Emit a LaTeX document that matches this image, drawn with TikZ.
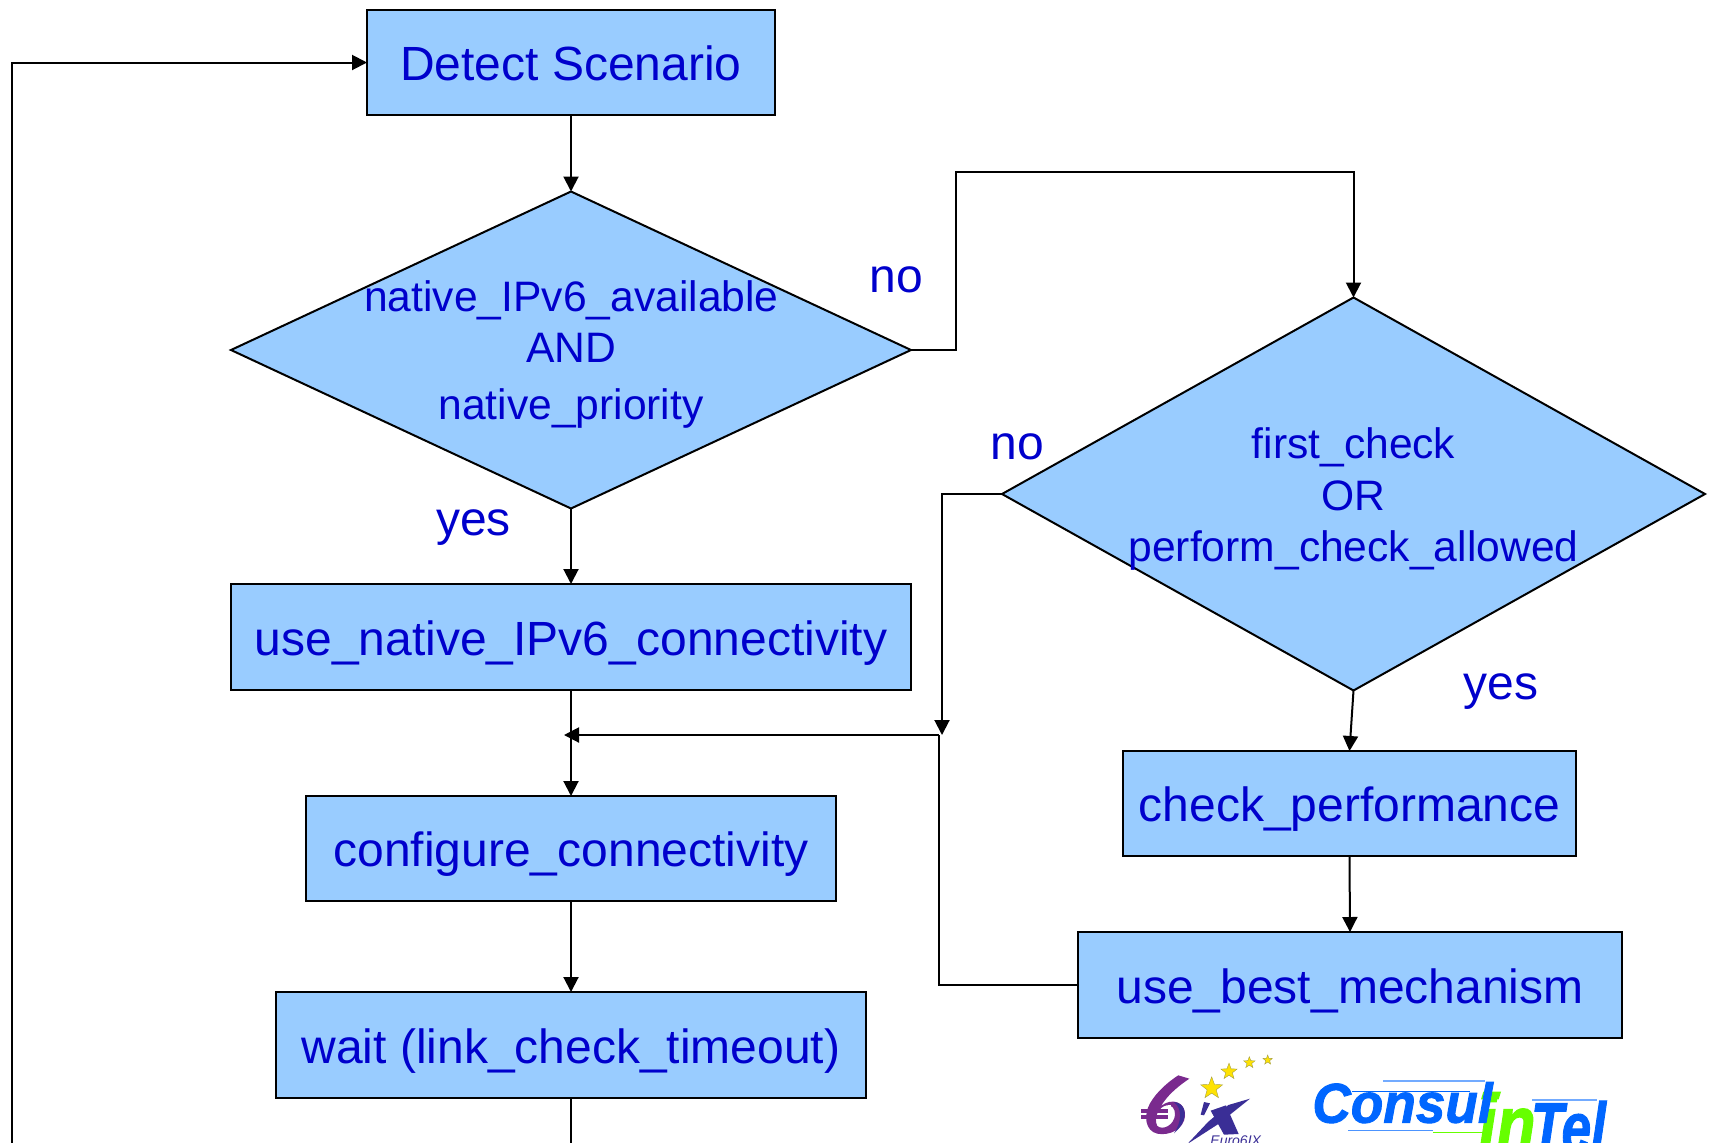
\documentclass[tikz,border=0pt]{standalone}
\usepackage{fontspec}
\setmainfont{Liberation Sans}
\newfontfamily\logof[BoldItalicFeatures={FakeBold=1.6}]{Liberation Sans}
\usetikzlibrary{shapes.geometric,arrows.meta}
\definecolor{boxfill}{HTML}{99CCFF}
\definecolor{txt}{HTML}{0000CC}
\definecolor{logoblue}{HTML}{0066FF}
\definecolor{logogreen}{HTML}{66FF00}
\definecolor{euroP}{HTML}{7A2A8E}
\definecolor{euroB}{HTML}{3A2E96}
\tikzset{
  boxn/.style={draw=black,line width=1.15pt,fill=boxfill,rectangle,inner sep=0pt,outer sep=0pt,text=txt,font=\fontsize{24}{28}\selectfont,text height=18.3pt,text depth=0pt},
  diam/.style={draw=black,line width=1pt,fill=boxfill,diamond,inner sep=0pt,outer sep=0pt},
  dtext/.style={text=txt,inner sep=0pt,anchor=base,font=\fontsize{21.3}{25}\selectfont},
  lab/.style={text=txt,inner sep=0pt,anchor=base,font=\fontsize{24}{28}\selectfont},
  conn/.style={draw=black,line width=1pt},
  arr/.style={conn,-{Triangle[length=7.5pt,width=7.5pt]}},
  estar/.style={star,star points=5,star point ratio=2.4,inner sep=0pt,outer sep=0pt,fill=yellow!85!orange,draw=yellow!60!black,line width=.2pt},
}
\begin{document}
\begin{tikzpicture}[x=0.5pt,y=-0.5pt]
\useasboundingbox (0,0) rectangle (1709,1142);
\clip (0,0) rectangle (1709,1142);
% boxes
\node[boxn,minimum width=204pt,minimum height=52.5pt] (detect) at (571,62.5) {Detect Scenario};
\node[diam,minimum width=340pt,minimum height=158.5pt] (d1) at (571,350) {};
\node[boxn,minimum width=340pt,minimum height=53pt] (native) at (571,637) {use\_native\_IPv6\_connectivity};
\node[boxn,minimum width=265pt,minimum height=52.5pt] (config) at (571,848.5) {configure\_connectivity};
\node[boxn,minimum width=295pt,minimum height=53pt] (wait) at (571,1045) {wait (link\_check\_timeout)};
\node[diam,minimum width=351.5pt,minimum height=196.5pt] (d2) at (1353.5,494) {};
\node[boxn,minimum width=226.5pt,minimum height=52.5pt] (perf) at (1349.5,803.5) {check\_performance};
\node[boxn,minimum width=272pt,minimum height=53pt] (best) at (1350,985) {use\_best\_mechanism};
% diamond text
\node[dtext] (t1a) at (571.5,311) {native\_IPv6\_available};
\node[dtext] (t1b) at (571,362) {AND};
\node[dtext] (t1c) at (571,419) {native\_priority};
\node[dtext] (t2a) at (1353.5,458) {first\_check};
\node[dtext] (t2b) at (1353.5,510) {OR};
\node[dtext] (t2c) at (1353.5,561) {perform\_check\_allowed};
% labels
\node[lab] (no1) at (896,292) {no};
\node[lab] (yes1) at (473.5,535) {yes};
\node[lab] (no2) at (1017,459) {no};
\node[lab] (yes2) at (1501,699) {yes};
% helper points
\coordinate (loop) at (12,1170);
\coordinate (r1) at (956,350);
\coordinate (top2) at (956,172);
\coordinate (drop) at (942,735);
\coordinate (lft2) at (942,494);
\coordinate (junc) at (939,735);
\coordinate (tipj) at (564,735);
% connectors
\draw[arr] (detect.south) -- (d1.north);
\draw[arr] (d1.south) -- (native.north);
\draw[arr] (native.south) -- (config.north);
\draw[arr] (config.south) -- (wait.north);
\draw[conn] (wait.south) -- (wait.south |- loop) -- (loop);
\draw[arr] (loop) |- (detect.west);
\draw[arr] (d1.east) -- (r1) -- (top2) -| (d2.north);
\draw[arr] (d2.west) -- (lft2) -- (drop);
\draw[arr] (d2.south) -- (perf.north);
\draw[arr] (perf.south) -- (best.north);
\draw[conn] (best.west) -| (junc);
\draw[arr] (junc) -- (tipj);
% logos
\begin{scope}[shift={(1100,1040)},x=0.16667pt,y=-0.16667pt]
  % Euro6IX
  \fill[euroP,even odd rule] (235,106) -- (268,116) .. controls (225,145) and (200,170) .. (183,198)
     .. controls (215,172) and (258,185) .. (255,228) .. controls (252,268) and (208,288) .. (172,281)
     .. controls (135,273) and (130,225) .. (150,190) .. controls (170,155) and (205,125) .. (235,106) -- cycle
     (200,196) .. controls (175,200) and (160,235) .. (172,258) .. controls (190,272) and (222,255) .. (225,225) .. controls (226,205) and (215,194) .. (200,196) -- cycle;
  \fill[euroP] (122,206) rectangle (205,218);
  \fill[euroP] (122,226) rectangle (205,238);
  \fill[white] (205,196) rectangle (212,245);
  \fill[euroB] (222,186) .. controls (262,190) and (268,240) .. (222,280) .. controls (248,240) and (245,205) .. (222,186) -- cycle;
  \fill[euroB] (312,186) -- (330,190) -- (312,226) -- (302,224) -- cycle;
  \fill[euroB] (332,212) -- (378,196) -- (416,282) -- (372,284) -- cycle;
  \fill[euroB] (385,195) -- (450,176) -- (355,252) -- (262,312) -- (325,245) -- cycle;
  \node[estar,minimum size=11.5pt] (s1) at (335,145) {};
  \node[estar,minimum size=8.5pt] (s2) at (387,95) {};
  \node[estar,minimum size=6pt] (s3) at (448,68) {};
  \node[estar,minimum size=5pt] (s4) at (503,60) {};
  \node[text=euroB,inner sep=0pt,anchor=base west,font=\fontsize{7}{8}\selectfont\itshape] (eu) at (330,316) {Euro6IX};
  % Consulintel
  \fill[logoblue!55] (850,120) rectangle (1155,126);
  \fill[logoblue!55] (1295,178) rectangle (1490,184);
  \fill[logoblue] (755,152) rectangle (1110,157);
  \fill[logoblue!70] (745,270) rectangle (1000,274);
  \fill[logogreen] (1000,275) rectangle (1160,279);
  \fill[logogreen] (1150,155) -- (1203,155) -- (1196,178) -- (1143,178) -- cycle;
  \node[text=logogreen,inner sep=0pt,anchor=base west,font=\logof\fontsize{40}{42}\bfseries\itshape\selectfont,xscale=.8] (cin) at (1135,335) {in};
  \node[text=logoblue,inner sep=0pt,anchor=base west,font=\logof\fontsize{28}{30}\bfseries\itshape\selectfont,xscale=.95] (cons) at (636,248) {Consul};
  \node[text=logoblue,inner sep=0pt,anchor=base west,font=\logof\fontsize{35}{37}\bfseries\itshape\selectfont,xscale=.76] (ctel) at (1292,335) {Tel};
\end{scope}
\end{tikzpicture}
\end{document}
